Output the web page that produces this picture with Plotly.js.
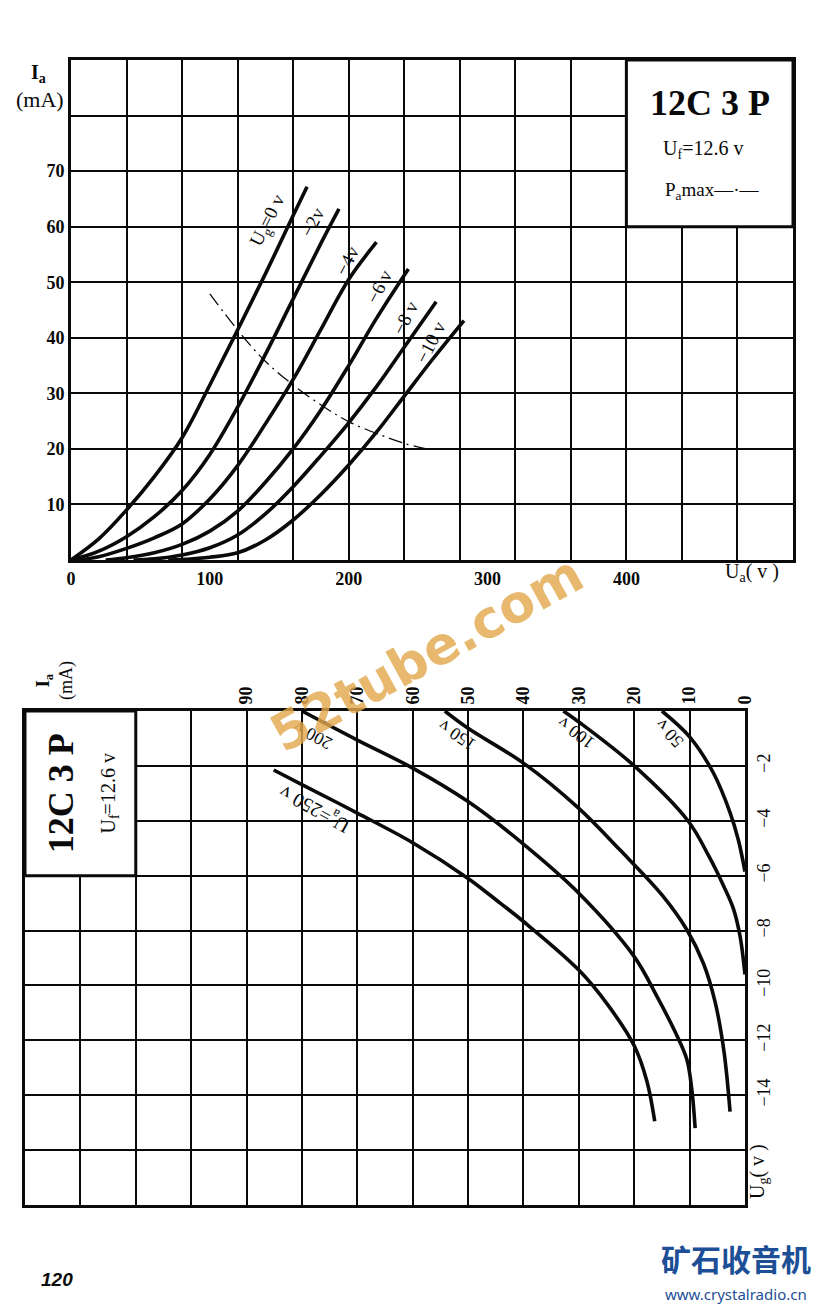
<!DOCTYPE html>
<html><head><meta charset="utf-8">
<script src="https://cdn.plot.ly/plotly-3.0.1.min.js"></script>
<style>html,body{margin:0;padding:0;background:#fff}</style>
</head><body><div id="chart" style="width:824px;height:1305px"></div>
<script>
// ---------- Top chart: Ia (mA) vs Ua (V), one curve per grid voltage ----------
const ua_g0  = [0, 20, 40, 60, 80, 100, 120, 140, 160, 170];
const ia_g0  = [0, 3.8, 9, 15, 22, 31.5, 41.4, 51.5, 62, 67.2];
const ua_g2  = [0, 20, 40, 60, 80, 100, 120, 140, 160, 180, 193];
const ia_g2  = [0, 1.6, 4.2, 7.8, 12.5, 19, 27.5, 37, 47, 57, 63.2];
const ua_g4  = [5, 20, 40, 60, 80, 100, 120, 140, 160, 180, 200, 220];
const ia_g4  = [0, 0.6, 2.1, 4, 6.5, 11, 17, 24.5, 32.5, 41.5, 50.5, 57.2];
const ua_g6  = [25, 40, 60, 80, 100, 120, 140, 160, 180, 200, 220, 243];
const ia_g6  = [0, 0.4, 1.3, 2.8, 5.2, 8.8, 14, 20, 27, 35, 43.5, 52.4];
const ua_g8  = [45, 60, 80, 100, 120, 140, 160, 180, 200, 220, 240, 263];
const ia_g8  = [0, 0.2, 0.9, 2.2, 4.5, 8.3, 13.2, 18.8, 24.7, 31.2, 38.3, 46.5];
const ua_g10 = [70, 80, 100, 120, 140, 160, 180, 200, 220, 240, 260, 283];
const ia_g10 = [0, 0.1, 0.5, 1.3, 3.6, 7.2, 11.8, 17.1, 23, 29.5, 36, 43.1];
// Pa max boundary (dash-dot)
const ua_pmax = [100, 120, 139, 160, 182, 200, 223, 240, 256];
const ia_pmax = [47.9, 41.4, 36, 31.5, 27.6, 24.9, 22.5, 21, 20];

const topXTicks = [0, 100, 200, 300, 400];
const topYTicks = [10, 20, 30, 40, 50, 60, 70];
const topCurveLabels = ['U<sub>g</sub>=0 v', '−2v', '−4v', '−6 v', '−8 v', '−10 v'];
const topLabelUa = [142, 174, 199, 222, 241, 259];
const topLabelIa = [61, 60.7, 53.9, 49.2, 43.6, 39.1];

// ---------- Bottom chart: Ug (V) vs Ia (mA), one curve per plate voltage ----------
const ia_a250 = [85.1, 80, 70, 60, 50, 44.2, 40, 30, 24.8, 20, 17.7, 16.3];
const ug_a250 = [-2.15, -2.68, -3.72, -4.8, -6.1, -7.0, -7.67, -9.44, -10.7, -12.2, -13.5, -14.95];
const ia_a200 = [80, 70, 60, 50, 40, 30, 20, 15.9, 12.6, 10.5, 9.6, 9.0];
const ug_a200 = [0, -1.06, -2.08, -3.3, -4.85, -6.64, -8.95, -10.4, -11.7, -12.7, -13.8, -15.2];
const ia_a150 = [54.2, 50, 40, 30, 22.6, 15, 10.5, 7.5, 5.4, 3.8, 2.7];
const ug_a150 = [0, -0.63, -1.9, -3.55, -5.06, -6.7, -7.97, -9.2, -10.6, -12.4, -14.6];
const ia_a100 = [32.8, 30, 20, 10.3, 6.5, 3.8, 2.1, 0.9, 0];
const ug_a100 = [0, -0.4, -2, -4, -5.3, -6.4, -7.2, -8.2, -9.6];
const ia_a50  = [15, 10, 5.7, 2.7, 1.2, 0];
const ug_a50  = [0, -0.94, -2.26, -3.7, -4.7, -5.85];

const botXTicks = [0, 10, 20, 30, 40, 50, 60, 70, 80, 90];
const botYTicks = [-2, -4, -6, -8, -10, -12, -14];
const botYTickText = ['−2', '−4', '−6', '−8', '−10', '−12', '−14'];
const botCurveLabels = ['U<sub>a</sub>=250 v', '200 v', '150 v', '100 v', '50 v'];
const botLabelIa = [77.6, 78.0, 52, 30.5, 13.7];
const botLabelUg = [-3.55, -0.9, -0.9, -0.8, -0.8];
const botLabelAngle = [-151, -152, -146, -143, -132];

const INK = '#0a0a0a';
const SERIF = 'Liberation Serif, DejaVu Serif, serif';
const curveLine = {color: INK, width: 3.6, shape: 'spline', smoothing: 1};

function tr(x, y, xa, ya, line) {
  return {x: x, y: y, xaxis: xa, yaxis: ya, type: 'scatter', mode: 'lines',
          line: line || curveLine, hoverinfo: 'skip', showlegend: false};
}

const data = [
  tr(ua_g0, ia_g0, 'x', 'y'), tr(ua_g2, ia_g2, 'x', 'y'), tr(ua_g4, ia_g4, 'x', 'y'),
  tr(ua_g6, ia_g6, 'x', 'y'), tr(ua_g8, ia_g8, 'x', 'y'), tr(ua_g10, ia_g10, 'x', 'y'),
  tr(ua_pmax, ia_pmax, 'x', 'y', {color: INK, width: 1.3, dash: '14px,5px,2px,5px', shape: 'spline'}),
  tr(ia_a250, ug_a250, 'x2', 'y2'), tr(ia_a200, ug_a200, 'x2', 'y2'), tr(ia_a150, ug_a150, 'x2', 'y2'),
  tr(ia_a100, ug_a100, 'x2', 'y2'), tr(ia_a50, ug_a50, 'x2', 'y2')
];

const gridMinor = (d) => ({tick0: 0, dtick: d, showgrid: true, gridcolor: INK, gridwidth: 2, ticks: ''});
const axisBase = {showgrid: false, zeroline: false, showline: true, linewidth: 3, linecolor: INK,
                  mirror: true, ticks: '', fixedrange: true};

function note(o) {
  return Object.assign({showarrow: false, xanchor: 'center', yanchor: 'middle'}, o);
}
const P = (px, py) => ({xref: 'paper', yref: 'paper', x: px / 824, y: 1 - py / 1305});

const annotations = [];
topCurveLabels.forEach((t, i) => annotations.push(note({
  x: topLabelUa[i], y: topLabelIa[i], xref: 'x', yref: 'y', text: t,
  textangle: -63, font: {family: SERIF, size: 19, color: INK}
})));
botCurveLabels.forEach((t, i) => annotations.push(note({
  x: botLabelIa[i], y: botLabelUg[i], xref: 'x2', yref: 'y2', text: t,
  textangle: botLabelAngle[i], font: {family: SERIF, size: i === 0 ? 20 : 18, color: INK}
})));
annotations.push(
  // top chart texts
  note(Object.assign(P(38, 73), {text: '<b>I<sub>a</sub></b>', font: {family: SERIF, size: 20, color: INK}})),
  note(Object.assign(P(40, 99), {text: '(mA)', font: {family: SERIF, size: 22, color: INK}})),
  note(Object.assign(P(752, 572), {text: 'U<sub>a</sub>( v )', font: {family: SERIF, size: 20, color: INK}})),
  note({xref: 'x', yref: 'y', x: 460, y: 82.3, text: '<b>12C 3 P</b>', font: {family: SERIF, size: 36, color: INK}}),
  note({xref: 'x', yref: 'y', x: 455, y: 73.8, text: 'U<sub>f</sub>=12.6 v', font: {family: SERIF, size: 20, color: INK}}),
  note({xref: 'x', yref: 'y', x: 462, y: 66.4, text: 'P<sub>a</sub>max—·—', font: {family: SERIF, size: 19, color: INK}}),
  // bottom chart texts
  note(Object.assign(P(55, 681), {text: '<b>I<sub>a</sub></b><br>(mA)', textangle: -90,
    font: {family: SERIF, size: 18, color: INK}})),
  note(Object.assign(P(758, 1172), {text: 'U<sub>g</sub>( v )', textangle: -90,
    font: {family: SERIF, size: 20, color: INK}})),
  note({xref: 'x2', yref: 'y2', x: 123.5, y: -3.0, text: '<b>12C 3 P</b>', textangle: -90,
    font: {family: SERIF, size: 36, color: INK}}),
  note({xref: 'x2', yref: 'y2', x: 114.8, y: -3.0, text: 'U<sub>f</sub>=12.6 v', textangle: -90,
    font: {family: SERIF, size: 20, color: INK}}),
  // page number
  note(Object.assign(P(57, 1279), {text: '<b><i>120</i></b>',
    font: {family: 'Liberation Sans, Arial, sans-serif', size: 19, color: INK}})),
  // site logo
  note(Object.assign(P(736, 1258), {text: '<b>矿石收音机</b>',
    font: {family: 'Noto Sans CJK SC', size: 30, color: '#1d4f96'}})),
  note(Object.assign(P(736, 1294), {text: 'www.crystalradio.cn',
    font: {family: 'Noto Sans, DejaVu Sans, sans-serif', size: 15, color: '#1d4f96'}})),
  // watermark
  note(Object.assign(P(426, 654), {text: '<b>52tube.com</b>', textangle: -29,
    font: {family: 'DejaVu Sans, sans-serif', size: 52, color: 'rgba(226,168,78,0.82)'}}))
);

const layout = {
  width: 824, height: 1305, margin: {l: 0, r: 0, t: 0, b: 0},
  paper_bgcolor: '#fff', plot_bgcolor: '#fff', showlegend: false,
  xaxis: Object.assign({}, axisBase, {
    domain: [71/824, 793/824], range: [0, 520], anchor: 'y',
    tickmode: 'array', tickvals: topXTicks, ticktext: topXTicks.map(String),
    tickfont: {family: SERIF, size: 18, color: INK, weight: 'bold'},
    minor: gridMinor(40)
  }),
  yaxis: Object.assign({}, axisBase, {
    domain: [1 - 560/1305, 1 - 60/1305], range: [0, 90], anchor: 'x',
    tickmode: 'array', tickvals: topYTicks, ticktext: topYTicks.map(String),
    tickfont: {family: SERIF, size: 18, color: INK, weight: 'bold'},
    minor: gridMinor(10)
  }),
  xaxis2: Object.assign({}, axisBase, {
    domain: [25/824, 745/824], range: [130, 0], anchor: 'y2', side: 'top',
    tickmode: 'array', tickvals: botXTicks, ticktext: botXTicks.map(String), tickangle: -90,
    tickfont: {family: SERIF, size: 18, color: INK, weight: 'bold'},
    minor: gridMinor(10)
  }),
  yaxis2: Object.assign({}, axisBase, {
    domain: [1 - 1205/1305, 1 - 711/1305], range: [-18, 0], anchor: 'x2', side: 'right',
    tickmode: 'array', tickvals: botYTicks, ticktext: botYTickText, tickangle: -90,
    tickfont: {family: SERIF, size: 18, color: INK},
    minor: gridMinor(2)
  }),
  shapes: [
    {type: 'rect', xref: 'x', yref: 'y', x0: 400, x1: 520, y0: 60, y1: 90,
     fillcolor: '#fff', line: {color: INK, width: 3}, layer: 'above'},
    {type: 'rect', xref: 'x2', yref: 'y2', x0: 130, x1: 110, y0: -6, y1: 0,
     fillcolor: '#fff', line: {color: INK, width: 3}, layer: 'above'}
  ],
  annotations: annotations
};

Plotly.newPlot('chart', data, layout, {staticPlot: true, displayModeBar: false});
</script>
</body></html>
